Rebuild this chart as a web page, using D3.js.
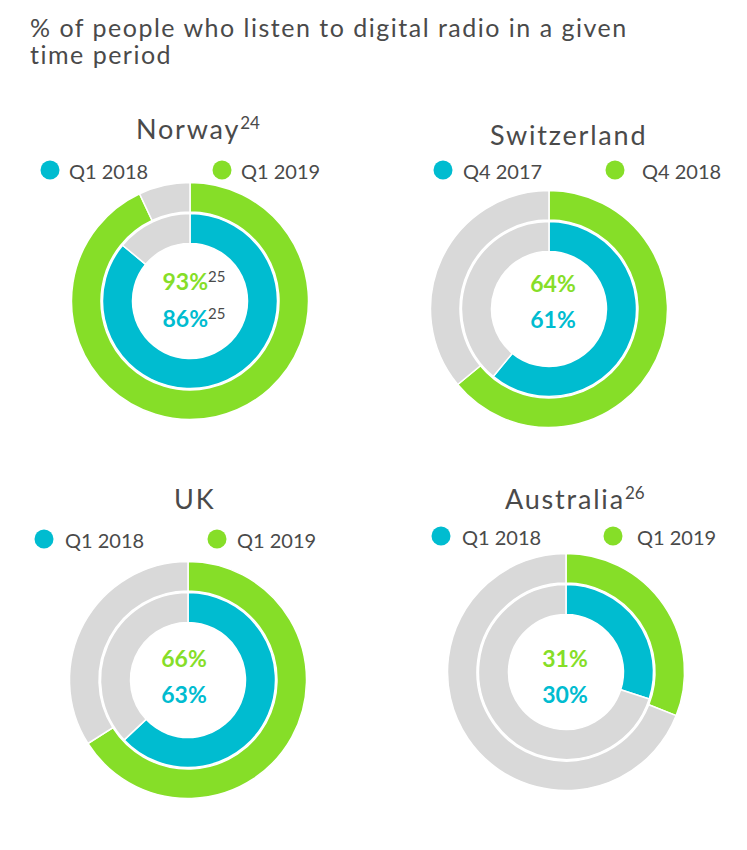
<!DOCTYPE html>
<html>
<head>
<meta charset="utf-8">
<script src="https://cdn.jsdelivr.net/npm/d3@7"></script>
<style>
  body { margin: 0; background: #fff; }
  text { font-family: Lato, "Open Sans", sans-serif; fill: #4a4a4a; }
</style>
</head>
<body>
<div id="chart"></div>
<script>
// values
const countries = ['Norway', 'Switzerland', 'UK', 'Australia']
const countryNotes = ['24', '', '', '26']
const earlierPeriods = ['Q1 2018', 'Q4 2017', 'Q1 2018', 'Q1 2018']
const laterPeriods = ['Q1 2019', 'Q4 2018', 'Q1 2019', 'Q1 2019']
const earlierValues = [86, 61, 63, 30]
const laterValues = [93, 64, 66, 31]
const valueNotes = ['25', '', '', '']

// layout of each panel
const centers = [[190, 301], [549, 309], [188, 680], [566, 672]]
const titleXs = [136, 490, 174, 505]
const titleYs = [139, 145, 509, 509]
const legendYs = [170, 170, 539, 536]
const legendDots = [[50, 222], [443, 615], [44, 217], [441, 613]]
const legendTexts = [[69, 241], [463, 642], [65, 237], [462, 637]]
const labelXs = [194, 553, 184, 565]
const labelYs = [[290, 327], [292, 328], [667, 703], [667, 703]]

const width = 747
const height = 850
const green = '#86de28'
const cyan = '#00bcd0'
const grey = '#d9d9d9'

const svg = d3
  .select('#chart')
  .append('svg')
  .attr('width', width)
  .attr('height', height)

svg.append('rect').attr('width', width).attr('height', height).attr('fill', '#fff')

svg
  .append('text')
  .attr('x', 30)
  .attr('y', 37)
  .attr('font-size', 25)
  .attr('letter-spacing', 1.5)
  .text('% of people who listen to digital radio in a given')
svg
  .append('text')
  .attr('x', 30)
  .attr('y', 64)
  .attr('font-size', 25)
  .attr('letter-spacing', 1.5)
  .text('time period')

const pie = d3.pie().sort(null).value((d) => d)
const outerArc = d3.arc().innerRadius(89).outerRadius(118.5)
const innerArc = d3.arc().innerRadius(57.5).outerRadius(87.5)

countries.forEach((name, i) => {
  const g = svg.append('g')
  const [cx, cy] = centers[i]

  // panel title
  const title = g
    .append('text')
    .attr('x', titleXs[i])
    .attr('y', titleYs[i])
    .attr('font-size', 27)
    .attr('letter-spacing', 1.8)
  title.append('tspan').text(name)
  if (countryNotes[i]) {
    title
      .append('tspan')
      .attr('font-size', 17)
      .attr('letter-spacing', 0)
      .attr('dy', -10)
      .text(countryNotes[i])
  }

  // legend
  const entries = [
    { label: earlierPeriods[i], color: cyan },
    { label: laterPeriods[i], color: green }
  ]
  entries.forEach((e, j) => {
    g.append('circle')
      .attr('cx', legendDots[i][j])
      .attr('cy', legendYs[i])
      .attr('r', 9.5)
      .attr('fill', e.color)
    g.append('text')
      .attr('x', legendTexts[i][j])
      .attr('y', legendYs[i] + 9)
      .attr('font-size', 20)
      .text(e.label)
  })

  // rings
  const ring = g.append('g').attr('transform', `translate(${cx},${cy})`)
  ring
    .selectAll('path.outer')
    .data(pie([laterValues[i], 100 - laterValues[i]]))
    .join('path')
    .attr('class', 'outer')
    .attr('d', outerArc)
    .attr('fill', (d, k) => (k === 0 ? green : grey))
    .attr('stroke', '#fff')
    .attr('stroke-width', 1.5)
  ring
    .selectAll('path.inner')
    .data(pie([earlierValues[i], 100 - earlierValues[i]]))
    .join('path')
    .attr('class', 'inner')
    .attr('d', innerArc)
    .attr('fill', (d, k) => (k === 0 ? cyan : grey))
    .attr('stroke', '#fff')
    .attr('stroke-width', 1.5)

  // centre values
  const vals = [
    { v: laterValues[i], color: green },
    { v: earlierValues[i], color: cyan }
  ]
  vals.forEach((d, j) => {
    const t = g
      .append('text')
      .attr('x', labelXs[i])
      .attr('y', labelYs[i][j])
      .attr('text-anchor', 'middle')
      .attr('font-size', 23)
      .attr('font-weight', 700)
    t.append('tspan').style('fill', d.color).text(d.v + '%')
    if (valueNotes[i]) {
      t.append('tspan')
        .attr('font-size', 15)
        .attr('font-weight', 400)
        .attr('dy', -8)
        .text(valueNotes[i])
    }
  })
})
</script>
</body>
</html>
